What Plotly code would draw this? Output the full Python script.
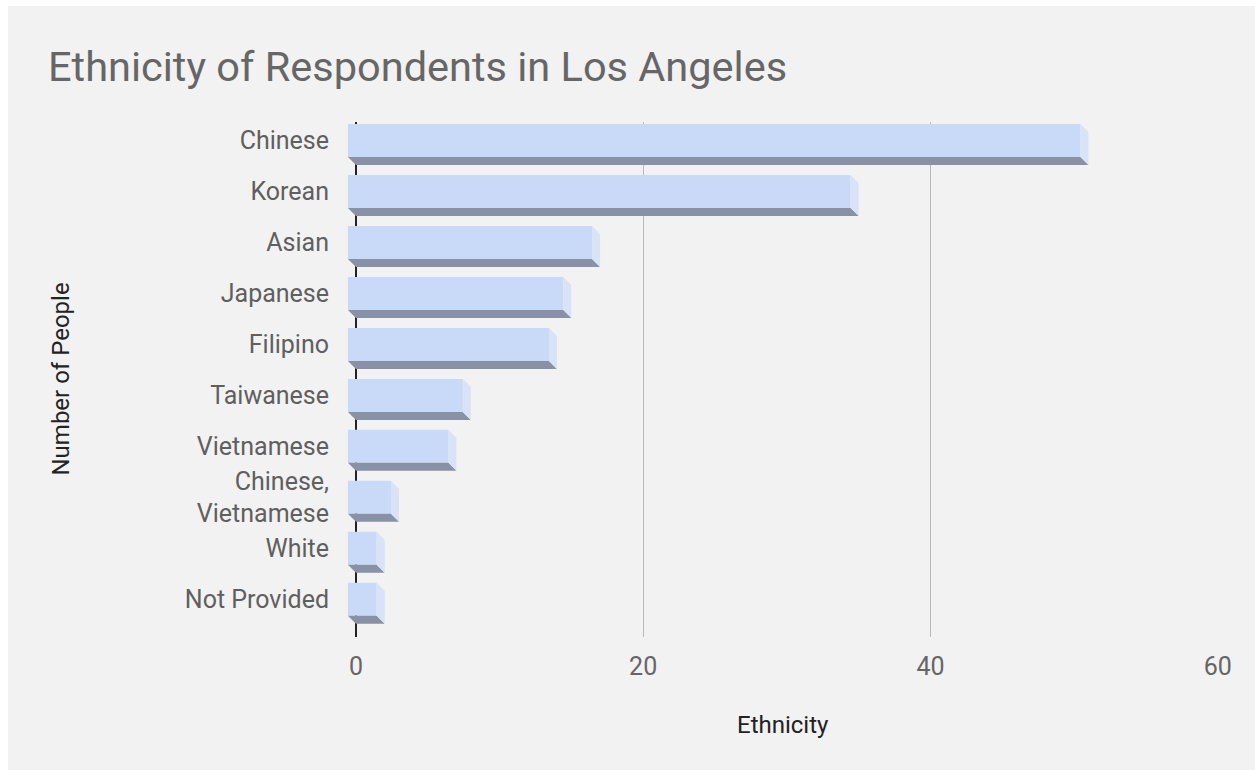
import plotly.graph_objects as go

categories = ["Chinese", "Korean", "Asian", "Japanese", "Filipino", "Taiwanese",
              "Vietnamese", "Chinese,<br>Vietnamese", "White", "Not Provided"]
values = [51, 35, 17, 15, 14, 8, 7, 3, 2, 2]
x_ticks = [0, 20, 40, 60]

# figure placed at page (8, 6) via body margin; fills the rest of the 1255x770 window
W, H = 1247, 764
ML, MR, MT, MB = 339, 37, 116, 133
xr = [-0.62, 60.02]
yr = [9.74, -0.363]

px_per_x = (W - ML - MR) / (xr[1] - xr[0])
px_per_y = (H - MT - MB) / (yr[0] - yr[1])
dx = 8 / px_per_x
dy = 8 / px_per_y
bw = 33 / px_per_y
hb = bw / 2

FRONT = "#c9daf8"
SIDE = "#d8e3f8"
BOTTOM = "#8891a5"

idx = list(range(len(categories)))

bx, by, sx, sy = [], [], [], []
for i, v in zip(idx, values):
    bx += [-dx, v - dx, v, 0, -dx, None]
    by += [i + hb, i + hb, i + hb + dy, i + hb + dy, i + hb, None]
    sx += [v - dx, v, v, v - dx, v - dx, None]
    sy += [i - hb, i - hb + dy, i + hb + dy, i + hb, i - hb, None]

fig = go.Figure()
fig.add_trace(go.Bar(y=idx, x=values, base=[-dx] * len(values), orientation="h",
                     width=bw, marker=dict(color=FRONT, line=dict(width=0)),
                     hoverinfo="x+y", showlegend=False))
fig.add_trace(go.Scatter(x=bx, y=by, mode="lines", fill="toself", fillcolor=BOTTOM,
                         line=dict(width=0, color=BOTTOM), hoverinfo="skip", showlegend=False))
fig.add_trace(go.Scatter(x=sx, y=sy, mode="lines", fill="toself", fillcolor=SIDE,
                         line=dict(width=0, color=SIDE), hoverinfo="skip", showlegend=False))

fig.update_layout(
    width=W, height=H,
    margin=dict(l=ML, r=MR, t=MT, b=MB, pad=0),
    paper_bgcolor="#f2f2f2", plot_bgcolor="rgba(0,0,0,0)",
    font=dict(family="Roboto", color="#5f5f5f"),
    title=dict(text="Ethnicity of Respondents in Los Angeles", x=40 / W, xref="container",
               xanchor="left", y=1 - 60 / H, yref="container", yanchor="middle",
               font=dict(size=41.5, color="#666666", family="Roboto")),
    xaxis=dict(range=xr, tickvals=x_ticks, ticktext=[str(t) for t in x_ticks],
               showgrid=True, gridcolor="#b9b9b9", gridwidth=1,
               zeroline=True, zerolinecolor="#222222", zerolinewidth=2,
               showline=False, ticks="", ticklabelstandoff=12,
               tickfont=dict(size=25, color="#666666"), fixedrange=True),
    yaxis=dict(range=yr, tickvals=idx, ticktext=categories, showgrid=False,
               zeroline=False, showline=False, ticks="", ticklabelstandoff=17,
               tickfont=dict(size=25, color="#5f5f5f"), fixedrange=True),
    showlegend=False,
    annotations=[
        dict(text="Ethnicity", xref="paper", yref="paper", x=0.5, y=0,
             yshift=-88, showarrow=False, yanchor="middle",
             font=dict(size=24, color="#222222")),
        dict(text="Number of People", xref="paper", yref="paper", x=0, y=0.5,
             xshift=-287, textangle=-90, showarrow=False, xanchor="center",
             font=dict(size=24, color="#222222")),
    ],
)

fig.write_html(
    "out.html",
    post_script="document.body.style.margin='6px 0 0 8px';"
                "document.body.style.overflow='hidden';"
                "document.documentElement.style.overflow='hidden';",
)
